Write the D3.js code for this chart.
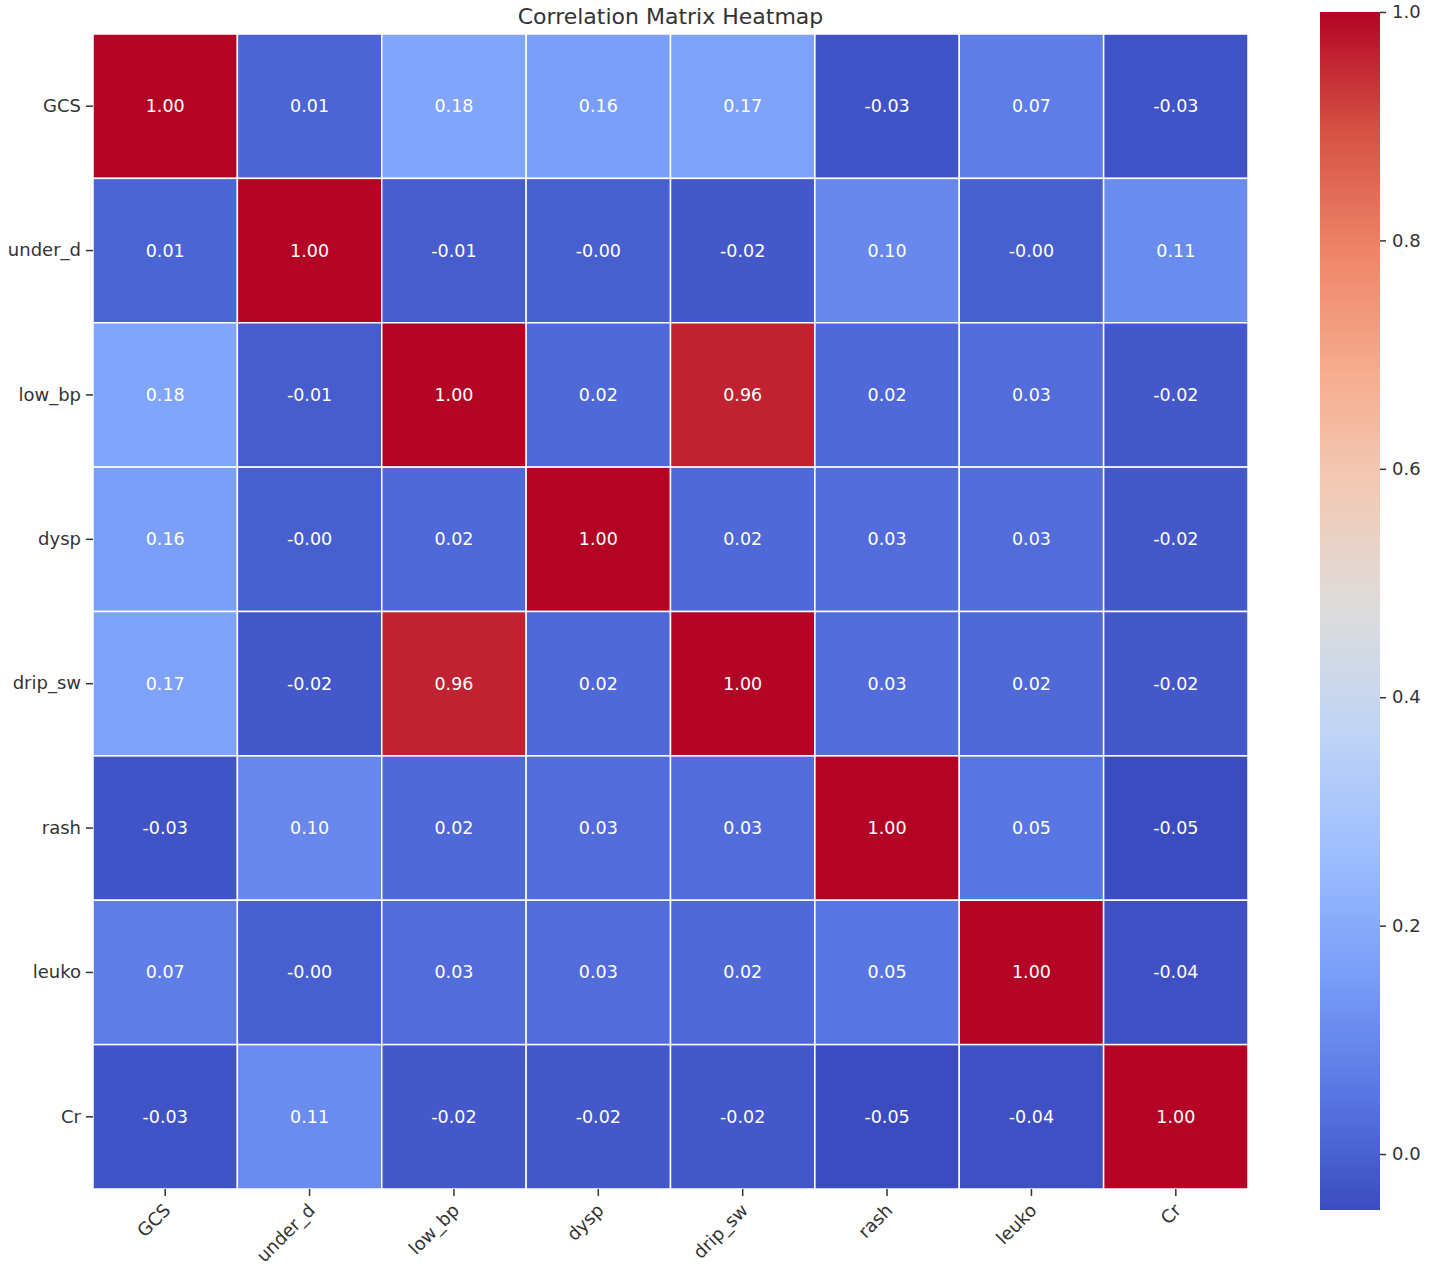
<!DOCTYPE html>
<html>
<head>
<meta charset="utf-8">
<script src="https://cdn.jsdelivr.net/npm/d3@7"></script>
<style>
  body { margin: 0; background: #fff; }
  text { font-family: "DejaVu Sans", sans-serif; }
</style>
</head>
<body>
<div id="chart"></div>
<script>
// labels of the matrix (rows and columns are the same)
const variables = ["GCS", "under_d", "low_bp", "dysp", "drip_sw", "rash", "leuko", "Cr"];

// one array per row
const rowGCS    = [1.00, 0.01, 0.18, 0.16, 0.17, -0.03, 0.07, -0.03];
const rowUnderD = [0.01, 1.00, -0.01, -0.004, -0.02, 0.10, -0.004, 0.11];
const rowLowBp  = [0.18, -0.01, 1.00, 0.02, 0.96, 0.02, 0.03, -0.02];
const rowDysp   = [0.16, -0.004, 0.02, 1.00, 0.02, 0.03, 0.03, -0.02];
const rowDripSw = [0.17, -0.02, 0.96, 0.02, 1.00, 0.03, 0.02, -0.02];
const rowRash   = [-0.03, 0.10, 0.02, 0.03, 0.03, 1.00, 0.05, -0.049];
const rowLeuko  = [0.07, -0.004, 0.03, 0.03, 0.02, 0.05, 1.00, -0.04];
const rowCr     = [-0.03, 0.11, -0.02, -0.02, -0.02, -0.049, -0.04, 1.00];

const colorbarTicks = [0.0, 0.2, 0.4, 0.6, 0.8, 1.0];

const rows = [rowGCS, rowUnderD, rowLowBp, rowDysp, rowDripSw, rowRash, rowLeuko, rowCr];

// matplotlib "coolwarm" sampled at 11 points
const coolwarmStops = ["#3b4cc0", "#5a78e4", "#7b9ff9", "#9ebeff", "#c0d4f5", "#dddcdc",
  "#f2cbb7", "#f7ac8e", "#ee8468", "#d65244", "#b40426"];
const coolwarm = d3.piecewise(d3.interpolateRgb, coolwarmStops);

const W = 1429, H = 1274;
const mLeft = 93, mTop = 34, size = 1155;

const cells = [];
rows.forEach((r, i) => r.forEach((v, j) => cells.push({ row: variables[i], col: variables[j], value: v })));

const vmin = d3.min(cells, d => d.value);
const vmax = d3.max(cells, d => d.value);
const color = d3.scaleSequential(coolwarm).domain([vmin, vmax]);

const svg = d3.select("#chart").append("svg")
  .attr("width", W)
  .attr("height", H);

const x = d3.scaleBand().domain(variables).range([mLeft, mLeft + size]);
const y = d3.scaleBand().domain(variables).range([mTop, mTop + size]);

// cells
svg.selectAll("rect.cell")
  .data(cells)
  .join("rect")
  .attr("class", "cell")
  .attr("x", d => x(d.col))
  .attr("y", d => y(d.row))
  .attr("width", x.bandwidth())
  .attr("height", y.bandwidth())
  .attr("fill", d => color(d.value))
  .attr("stroke", "white")
  .attr("stroke-width", 1.5);

// annotations
svg.selectAll("text.annot")
  .data(cells)
  .join("text")
  .attr("class", "annot")
  .attr("x", d => x(d.col) + x.bandwidth() / 2)
  .attr("y", d => y(d.row) + y.bandwidth() / 2)
  .attr("text-anchor", "middle")
  .attr("dominant-baseline", "central")
  .attr("fill", "white")
  .style("font-size", "17.5px")
  .text(d => d.value.toFixed(2));

// x axis
const xAxis = svg.append("g")
  .attr("transform", `translate(0,${mTop + size})`)
  .call(d3.axisBottom(x).tickSize(7).tickSizeOuter(0));
xAxis.select(".domain").remove();
xAxis.selectAll("line").attr("stroke", "#333").attr("stroke-width", 1.5);
xAxis.selectAll("text")
  .style("font-size", "18px")
  .attr("fill", "#333")
  .attr("text-anchor", "end")
  .attr("dy", "0.35em")
  .attr("transform", "translate(2,18) rotate(-45)")
  .attr("y", 0)
  .attr("x", 0);

// y axis
const yAxis = svg.append("g")
  .attr("transform", `translate(${mLeft},0)`)
  .call(d3.axisLeft(y).tickSize(7).tickSizeOuter(0));
yAxis.select(".domain").remove();
yAxis.selectAll("line").attr("stroke", "#333").attr("stroke-width", 1.5);
yAxis.selectAll("text").style("font-size", "18px").attr("fill", "#333").attr("x", -12);

// title
svg.append("text")
  .attr("x", mLeft + size / 2)
  .attr("y", 24)
  .attr("text-anchor", "middle")
  .attr("fill", "#333")
  .style("font-size", "22px")
  .text("Correlation Matrix Heatmap");

// colorbar
const cbX = 1320, cbW = 60, cbTop = 12, cbBottom = 1210;
const cbScale = d3.scaleLinear().domain([vmin, vmax]).range([cbBottom, cbTop]);

const grad = svg.append("defs").append("linearGradient")
  .attr("id", "cbgrad")
  .attr("x1", 0).attr("y1", 1).attr("x2", 0).attr("y2", 0);
grad.selectAll("stop")
  .data(d3.range(0, 1.0001, 0.02))
  .join("stop")
  .attr("offset", d => d)
  .attr("stop-color", d => coolwarm(d));

svg.append("rect")
  .attr("x", cbX)
  .attr("y", cbTop)
  .attr("width", cbW)
  .attr("height", cbBottom - cbTop)
  .attr("fill", "url(#cbgrad)");

const cbAxis = svg.append("g")
  .attr("transform", `translate(${cbX + cbW},0)`)
  .call(d3.axisRight(cbScale).tickValues(colorbarTicks).tickFormat(d3.format(".1f")).tickSize(6));
cbAxis.select(".domain").remove();
cbAxis.selectAll("line").attr("stroke", "#333").attr("stroke-width", 1.5);
cbAxis.selectAll("text").style("font-size", "18px").attr("fill", "#333").attr("x", 12);
</script>
</body>
</html>
